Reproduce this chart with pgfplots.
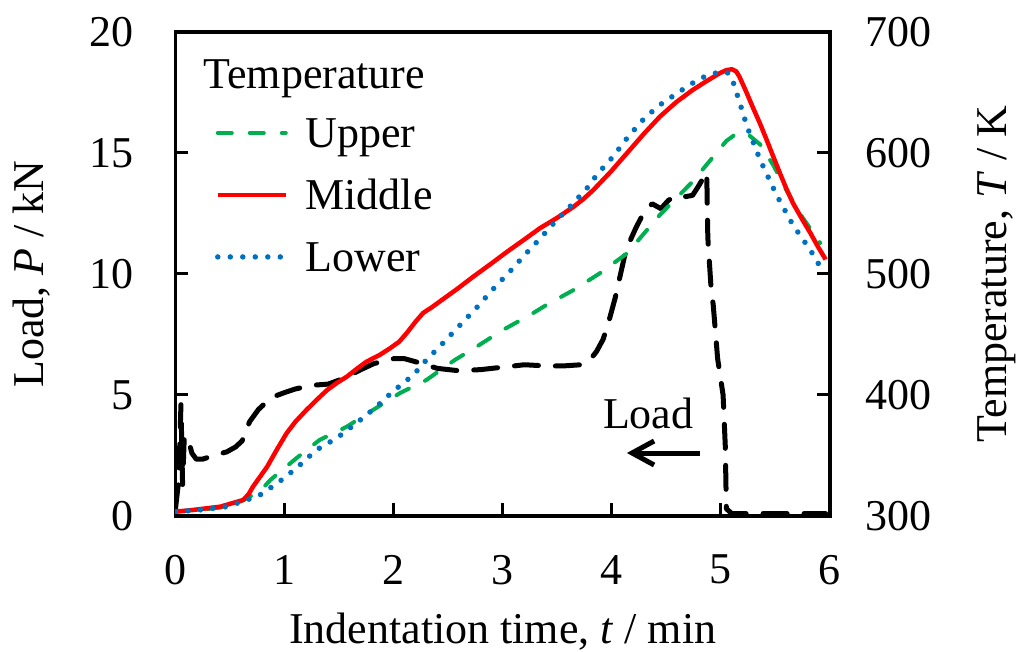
\documentclass[border=0pt]{standalone}
\usepackage{fontspec}
\setmainfont{LiberationSerif}[Extension=.ttf, UprightFont=*-Regular, ItalicFont=*-Italic, BoldFont=*-Bold, BoldItalicFont=*-BoldItalic]
\usepackage{pgfplots}
\pgfplotsset{compat=1.18}
\usetikzlibrary{arrows.meta}
\definecolor{upgreen}{RGB}{0,176,80}
\definecolor{midred}{RGB}{255,0,0}
\definecolor{lowblue}{RGB}{0,112,192}
\newcommand{\bigf}{\fontsize{22}{26}\selectfont}
\pgfplotsset{
 base/.style={
  width=327.25pt, height=242pt, scale only axis,
  xmin=0, xmax=6,
  tick align=inside, major tick length=6.5pt,
  every tick/.style={line width=1.5pt, black},
  axis line style={line width=1.6pt},
  tick label style={font=\bigf},
  label style={font=\bigf},
  /pgf/number format/assume math mode=true,
 }
}
\begin{document}
\begin{tikzpicture}
\begin{axis}[base, name=ax,
  ymin=0, ymax=20, ytick={0,5,10,15,20}, xtick={0,1,2,3,4,5,6},
  xtick pos=bottom, ytick pos=left,
  xticklabel style={yshift=-16pt},
  yticklabel style={xshift=-17.4pt},
  xlabel={Indentation time, \textit{t} / min},
  ylabel={Load, \textit{P} / kN},
  xlabel style={at={(axis description cs:0.5,-0.2624)}, anchor=base},
  ylabel style={at={(axis description cs:-0.2024,0.5)}, anchor=base},
]
\addplot[black, line width=2.5pt, line cap=round, line join=round, dash pattern=on 12pt off 8.5pt] coordinates {
(0.00,0.3) (0.03,1.5) (0.05,4.6) (0.065,1.3) (0.08,3.2) (0.11,3.3) (0.15,2.6) (0.19,2.35)
(0.25,2.35) (0.35,2.5) (0.47,2.65) (0.55,2.85) (0.61,3.1) (0.68,3.9) (0.76,4.4) (0.88,4.9) (1.0,5.1)
(1.1,5.25) (1.25,5.4) (1.4,5.45) (1.55,5.7) (1.7,6.05) (1.82,6.3) (2.0,6.5) (2.1,6.5)
(2.22,6.35) (2.4,6.1) (2.6,6.0) (2.8,6.05) (3.0,6.15) (3.2,6.25) (3.4,6.2) (3.55,6.2)
(3.72,6.25) (3.8,6.45) (3.86,6.8) (3.92,7.3) (3.97,8.0) (4.03,9.0) (4.08,10.0) (4.13,11.0) (4.22,11.9)
(4.3,12.6) (4.37,12.9) (4.45,12.7) (4.52,13.05) (4.6,13.25) (4.68,13.2) (4.74,13.25) (4.79,13.6)
(4.87,14.2) (4.88,11.5) (4.91,9.4) (4.93,8.7) (4.97,6.5) (5.02,5.0) (5.04,2.9) (5.05,0.3)
(5.1,0.1) (5.96,0.1)
};
\node[anchor=base, inner sep=0pt, font=\bigf] at (axis cs:4.334,3.595) {Load};
\draw[line width=2.5pt, -{Straight Barb[length=11pt,width=12pt]}] (axis cs:4.808,2.603) -- (axis cs:4.138,2.603);
\end{axis}
\begin{axis}[base,
  ymin=300, ymax=700, ytick={300,400,500,600,700},
  axis x line=none, axis y line*=right, ytick pos=right,
  yticklabel style={xshift=14.3pt},
  ylabel={Temperature, \textit{T} / K},
  ylabel style={at={(axis description cs:1.2689,0.5)}, anchor=base},
  legend style={at={(rel axis cs:0.0604,0.839)}, anchor=north west, draw=none, fill=none,
    inner sep=0pt, outer sep=0pt, row sep=8pt, column sep=8.5pt, font=\bigf,
    nodes={inner sep=0pt, text height=19pt, text depth=4pt}},
  legend cell align=left,
  legend image code/.code={\draw[#1] (0pt,0pt) -- (34pt,0pt);},
]
\addplot[upgreen, line width=2pt, line cap=round, line join=round, dash pattern=on 7pt off 9pt] coordinates {
(0.0,303.6) (0.22,305) (0.47,307.7) (0.62,313) (0.78,321) (0.87,329.8) (1.11,347.9) (1.32,362.8)
(1.57,373.8) (1.81,387.6) (2.06,401.7) (2.30,412.4) (2.56,428.9) (2.76,439.9) (3.00,453.7)
(3.25,466.1) (3.40,474.4) (3.65,486.8) (3.89,500.6) (4.14,517.1) (4.44,548.8) (4.74,576.3)
(5.05,610) (5.15,616.5) (5.24,616) (5.36,607) (5.48,590) (5.60,569.4) (5.72,550.4) (5.91,525.6)
};
\addlegendentry{Upper}
\addplot[midred, line width=2.25pt, line join=round] coordinates {
(0.0,303.6) (0.16,305) (0.41,307.7) (0.62,313.2) (0.67,318) (0.71,324.2) (0.84,340.7) (0.93,355) (1.02,368.6)
(1.10,378) (1.20,387.6) (1.30,396.5) (1.39,404.1) (1.48,410) (1.57,415.1) (1.66,421.5) (1.75,427.5) (1.87,433) (1.97,438.8) (2.05,444) (2.12,451.2) (2.20,460.5) (2.27,467.8)
(2.35,472.5) (2.42,477.1) (2.58,487.5) (2.73,497.8) (2.89,508.3) (3.04,518.4) (3.19,528) (3.34,537.8) (3.50,546.5) (3.65,555.6) (3.74,562) (3.83,569.4) (3.99,584.5) (4.14,600)
(4.29,615.5) (4.44,630) (4.59,642) (4.74,652) (4.87,659.5) (4.99,666) (5.05,668.5) (5.10,669.2) (5.14,667.5) (5.17,663) (5.23,651) (5.29,638.3) (5.36,624) (5.42,610.7)
(5.48,597) (5.54,583.5) (5.60,570.5) (5.66,558.7) (5.74,546) (5.82,533.9) (5.89,522.5) (5.96,512)
};
\addlegendentry{Middle}
\addplot[lowblue, line width=2.75pt, line cap=round, dash pattern=on 0pt off 6.25pt] coordinates {
(0.0,303.6) (0.22,305) (0.47,307.7) (0.65,313.2) (0.76,316.5) (0.94,327.5) (1.11,339.7)
(1.29,354.5) (1.48,364.5) (1.66,376.9) (1.83,389.3) (1.99,402.7) (2.18,416.5) (2.30,428.9)
(2.45,442.7) (2.61,457.9) (2.76,472.1) (2.91,487.4) (3.07,502.5) (3.22,517.6) (3.33,528.1)
(3.48,543.2) (3.64,557.9) (3.79,572.7) (3.86,581.8) (4.01,596.9) (4.15,613.5) (4.30,628.9)
(4.44,639.7) (4.62,650.7) (4.80,661.2) (4.92,665.5) (5.02,667.2) (5.07,666) (5.10,662) (5.17,642.4) (5.24,621.7)
(5.36,594.2) (5.51,565.3) (5.66,540.5) (5.82,519.8) (5.91,506)
};
\addlegendentry{Lower}
\node[anchor=base west, inner sep=0pt, font=\bigf] at (rel axis cs:0.042,0.884) {Temperature};
\end{axis}
\pgfresetboundingbox
\path ([shift={(-87.75pt,-68pt)}]ax.south west) rectangle ([shift={(93.5pt,16pt)}]ax.north east);
\end{tikzpicture}
\end{document}
